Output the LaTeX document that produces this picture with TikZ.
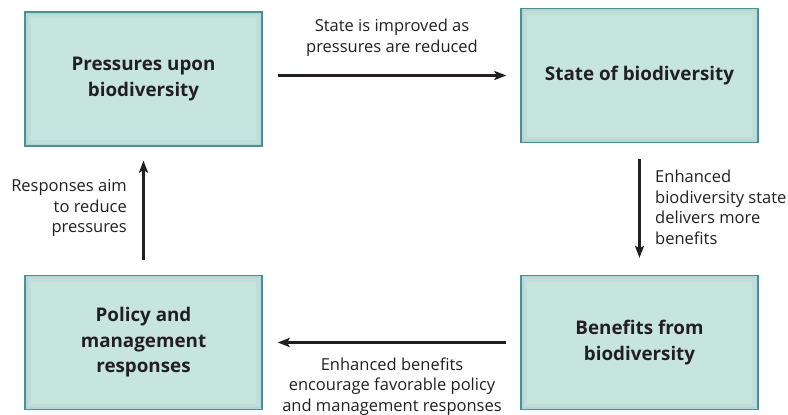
\documentclass[tikz,border=0pt]{standalone}
\usepackage{fontspec}
\setmainfont{Open Sans}
\usetikzlibrary{arrows.meta}
\definecolor{boxfill}{HTML}{C6E5DF}
\definecolor{boxline}{HTML}{4E8F91}
\definecolor{ink}{HTML}{231F20}
\tikzset{
  box/.style={draw=boxline, line width=1.3pt, fill=boxfill, minimum width=237pt, minimum height=134pt,
    inner sep=0pt, align=center, text=ink, font=\fontsize{18.8}{25.5}\selectfont\bfseries,
    path picture={
      \draw[boxline, opacity=0.07, line width=12pt] (path picture bounding box.south west) rectangle (path picture bounding box.north east);
      \draw[boxline, opacity=0.08, line width=5pt] (path picture bounding box.south west) rectangle (path picture bounding box.north east);
    }},
  lbl/.style={inner sep=0pt, text=ink, font=\fontsize{16.5}{20.5}\selectfont},
  arr/.style={draw=ink, line width=2.2pt, -{Stealth[length=12pt,width=9pt,inset=2.5pt]}}
}
\begin{document}
\begin{tikzpicture}[x=1pt,y=-1pt]
\useasboundingbox (0,0) rectangle (788,415);
\node[box] (tl) at (143.5,79) {Pressures upon\\biodiversity};
\node[box] (tr) at (639.5,75.5) {State of biodiversity};
\node[box] (bl) at (143.5,342.5) {Policy and\\management\\responses};
\node[box] (br) at (639.5,342.5) {Benefits from\\biodiversity};
\draw[arr, shorten <=15pt, shorten >=14pt] (tl.east |- tr.west) -- (tr.west);
\draw[arr, shorten <=16pt, shorten >=17pt] (tr.south) -- (br.north);
\draw[arr, shorten <=14pt, shorten >=15pt] (br.west) -- (bl.east |- br.west);
\draw[arr, shorten <=15pt, shorten >=14pt] (bl.north) -- (tl.south);
\node[lbl, align=center] (l1) at (392,37.5) {State is improved as\\pressures are reduced};
\node[lbl, align=left, anchor=west] (l2) at (655,207.5) {Enhanced\\biodiversity state\\delivers more\\benefits};
\node[lbl, align=center] (l3) at (392,386.5) {Enhanced benefits\\encourage favorable policy\\and management responses};
\node[lbl, align=right, anchor=east] (l4) at (127,208) {Responses aim\\to reduce\\pressures};
\end{tikzpicture}
\end{document}
